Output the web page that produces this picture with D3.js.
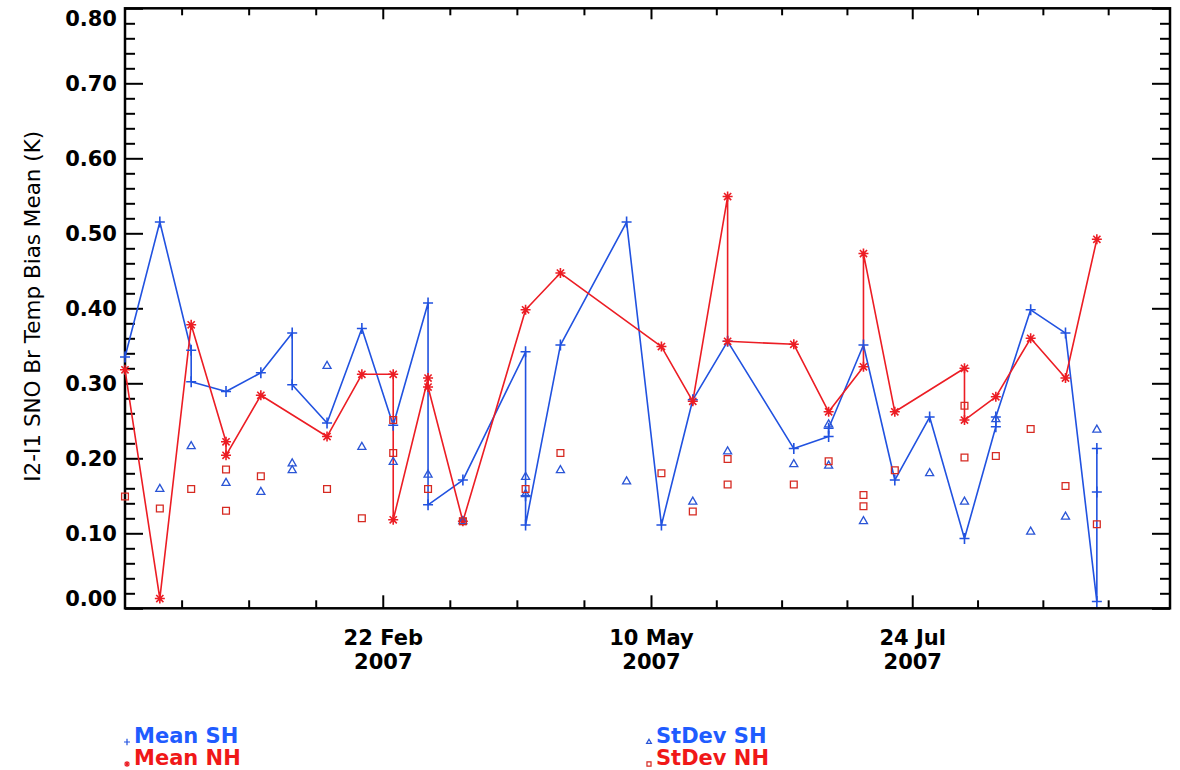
<!DOCTYPE html>
<html>
<head>
<meta charset="utf-8">
<script src="https://cdn.jsdelivr.net/npm/d3@7"></script>
<style>
  html, body { margin: 0; padding: 0; background: #fff; }
  svg { display: block; }
</style>
</head>
<body>
<div id="chart"></div>
<script>
// I2-I1 SNO brightness temperature bias, 2007
const meanSHDates = ["2006-12-10", "2006-12-20", "2006-12-29", "2006-12-29", "2007-01-08", "2007-01-18",
  "2007-01-27", "2007-01-27", "2007-02-06", "2007-02-16", "2007-02-25", "2007-03-07", "2007-03-07",
  "2007-03-17", "2007-04-04", "2007-04-04", "2007-04-04", "2007-04-14", "2007-05-03", "2007-05-13",
  "2007-05-22", "2007-06-01", "2007-06-20", "2007-06-30", "2007-06-30", "2007-07-10", "2007-07-19",
  "2007-07-29", "2007-08-08", "2007-08-17", "2007-08-17", "2007-08-27", "2007-09-06", "2007-09-15",
  "2007-09-15", "2007-09-15"];
const meanSHValues = [0.335, 0.515, 0.344, 0.302, 0.289, 0.314,
  0.367, 0.298, 0.247, 0.373, 0.244, 0.407, 0.138,
  0.171, 0.342, 0.150, 0.111, 0.351, 0.515, 0.111,
  0.278, 0.356, 0.213, 0.229, 0.240, 0.351, 0.171,
  0.255, 0.093, 0.242, 0.255, 0.398, 0.367, 0.009,
  0.155, 0.213];

const meanNHDates = ["2006-12-10", "2006-12-20", "2006-12-29", "2007-01-08", "2007-01-08", "2007-01-18",
  "2007-02-06", "2007-02-16", "2007-02-25", "2007-02-25", "2007-03-07", "2007-03-07", "2007-03-17",
  "2007-04-04", "2007-04-14", "2007-05-13", "2007-05-22", "2007-06-01", "2007-06-01", "2007-06-20",
  "2007-06-30", "2007-07-10", "2007-07-10", "2007-07-19", "2007-08-08", "2007-08-08", "2007-08-17",
  "2007-08-27", "2007-09-06", "2007-09-15"];
const meanNHValues = [0.318, 0.013, 0.378, 0.222, 0.204, 0.284,
  0.229, 0.312, 0.312, 0.118, 0.307, 0.295, 0.116,
  0.398, 0.447, 0.349, 0.276, 0.549, 0.356, 0.352,
  0.262, 0.322, 0.473, 0.262, 0.320, 0.251, 0.282,
  0.360, 0.307, 0.492];

const stdSHDates = ["2006-12-20", "2006-12-29", "2007-01-08", "2007-01-18", "2007-01-27", "2007-01-27",
  "2007-02-06", "2007-02-16", "2007-02-25", "2007-03-07", "2007-03-17", "2007-04-04", "2007-04-04",
  "2007-04-14", "2007-05-03", "2007-05-22", "2007-06-01", "2007-06-20", "2007-06-30", "2007-06-30",
  "2007-07-10", "2007-07-29", "2007-08-08", "2007-08-17", "2007-08-27", "2007-09-06", "2007-09-15"];
const stdSHValues = [0.159, 0.216, 0.167, 0.155, 0.193, 0.184,
  0.323, 0.215, 0.195, 0.178, 0.116, 0.175, 0.152,
  0.184, 0.169, 0.142, 0.209, 0.192, 0.245, 0.190,
  0.116, 0.180, 0.142, 0.252, 0.102, 0.122, 0.238];

const stdNHDates = ["2006-12-10", "2006-12-20", "2006-12-29", "2007-01-08", "2007-01-08", "2007-01-18",
  "2007-02-06", "2007-02-16", "2007-02-25", "2007-02-25", "2007-03-07", "2007-03-17", "2007-04-04",
  "2007-04-14", "2007-05-13", "2007-05-22", "2007-06-01", "2007-06-01", "2007-06-20", "2007-06-30",
  "2007-07-10", "2007-07-10", "2007-07-19", "2007-08-08", "2007-08-08", "2007-08-17", "2007-08-27",
  "2007-09-06", "2007-09-15"];
const stdNHValues = [0.149, 0.133, 0.159, 0.185, 0.130, 0.176,
  0.159, 0.120, 0.251, 0.207, 0.159, 0.116, 0.159,
  0.207, 0.180, 0.129, 0.199, 0.165, 0.165, 0.196,
  0.151, 0.136, 0.184, 0.270, 0.201, 0.203, 0.239,
  0.163, 0.112];

const xDomain = ["2006-12-10", "2007-10-06"];
const xTickDates = ["2007-02-22", "2007-05-10", "2007-07-24"];
const yTickValues = [0.0, 0.1, 0.2, 0.3, 0.4, 0.5, 0.6, 0.7, 0.8];
const yTitle = "I2-I1 SNO Br Temp Bias Mean (K)";
const legendLabels = ["Mean SH", "Mean NH", "StDev SH", "StDev NH"];

const blue = "#2152e0";
const red = "#ec1d24";
const blueText = "#1f5cff";
const redText = "#f01818";

const width = 1180;
const height = 770;
const plotLeft = 125, plotRight = 1170, plotTop = 8.3, plotBottom = 608.3;

const parse = d3.utcParse("%Y-%m-%d");
const fmtDay = d3.utcFormat("%d %b");
const fmtYear = d3.utcFormat("%Y");

const x = (d3.scaleUtc()
           .domain(xDomain.map(parse))
           .range([plotLeft, plotRight]));

const y = (d3.scaleLinear()
           .domain([0, 0.8])
           .range([plotBottom, plotTop]));

const svg = (d3.select("#chart").append("svg")
             .attr("width", width)
             .attr("height", height)
             .attr("viewBox", [0, 0, width, height]));

// minor x ticks: quarters between labelled dates
const majorDates = xTickDates.map(parse);
const minorDates = (() => {
  const out = [];
  const [d0, d1] = x.domain();
  const steps = [];
  for (let i = 0; i < majorDates.length - 1; i++) {
    steps.push((majorDates[i + 1] - majorDates[i]) / 4);
  }
  let t = +majorDates[0];
  while (t - steps[0] > +d0) { t -= steps[0]; out.push(new Date(t)); }
  for (let i = 0; i < steps.length; i++) {
    for (let k = 1; k < 4; k++) out.push(new Date(+majorDates[i] + k * steps[i]));
  }
  t = +majorDates[majorDates.length - 1];
  const last = steps[steps.length - 1];
  while (t + last < +d1) { t += last; out.push(new Date(t)); }
  return out;
})();
const minorY = y.ticks(40).filter(v => !yTickValues.some(m => Math.abs(m - v) < 1e-6));

function styleAxis(g) {
  g.select(".domain").remove();
  g.selectAll("line").attr("stroke", "#000").attr("stroke-width", 2);
}

// bottom axis
svg.append("g")
  .attr("transform", `translate(0,${plotBottom})`)
  .call(d3.axisBottom(x).tickValues(minorDates).tickSize(-8).tickFormat(""))
  .call(styleAxis);

const bottomMajor = svg.append("g")
  .attr("transform", `translate(0,${plotBottom})`)
  .call(d3.axisBottom(x).tickValues(majorDates).tickSize(-13).tickFormat(""))
  .call(styleAxis);

bottomMajor.selectAll(".tick").append("text")
  .attr("fill", "#000")
  .attr("text-anchor", "middle")
  .attr("font-family", "DejaVu Sans")
  .attr("font-weight", "bold")
  .attr("font-size", 21)
  .each(function(d) {
    const t = d3.select(this);
    t.append("tspan").attr("x", 0).attr("y", 37).text(fmtDay(d));
    t.append("tspan").attr("x", 0).attr("y", 61).text(fmtYear(d));
  });

// top axis
svg.append("g")
  .attr("transform", `translate(0,${plotTop})`)
  .call(d3.axisTop(x).tickValues(minorDates).tickSize(-7).tickFormat(""))
  .call(styleAxis);
svg.append("g")
  .attr("transform", `translate(0,${plotTop})`)
  .call(d3.axisTop(x).tickValues(majorDates).tickSize(-11).tickFormat(""))
  .call(styleAxis);

// left axis
svg.append("g")
  .attr("transform", `translate(${plotLeft},0)`)
  .call(d3.axisLeft(y).tickValues(minorY).tickSize(-10).tickFormat(""))
  .call(styleAxis);

const leftMajor = svg.append("g")
  .attr("transform", `translate(${plotLeft},0)`)
  .call(d3.axisLeft(y).tickValues(yTickValues).tickSize(-18).tickPadding(8).tickFormat(d3.format(".2f")))
  .call(styleAxis);

leftMajor.selectAll("text")
  .attr("fill", "#000")
  .attr("font-family", "DejaVu Sans")
  .attr("font-weight", "bold")
  .attr("font-size", 21)
  .attr("dy", d => d === 0 ? "-0.15em" : (d === 0.8 ? "0.8em" : "0.36em"));

// right axis
svg.append("g")
  .attr("transform", `translate(${plotRight},0)`)
  .call(d3.axisRight(y).tickValues(minorY).tickSize(-10).tickFormat(""))
  .call(styleAxis);
svg.append("g")
  .attr("transform", `translate(${plotRight},0)`)
  .call(d3.axisRight(y).tickValues(yTickValues).tickSize(-18).tickFormat(""))
  .call(styleAxis);

// frame
svg.append("rect")
  .attr("x", plotLeft)
  .attr("y", plotTop)
  .attr("width", plotRight - plotLeft)
  .attr("height", plotBottom - plotTop)
  .attr("fill", "none")
  .attr("stroke", "#000")
  .attr("stroke-width", 2.5);

// y title
svg.append("text")
  .attr("transform", `translate(40,${(plotTop + plotBottom) / 2 - 2}) rotate(-90)`)
  .attr("text-anchor", "middle")
  .attr("font-family", "DejaVu Sans")
  .attr("font-size", 21.5)
  .attr("fill", "#000")
  .text(yTitle);

// marker shapes
const plusPath = "M-5,0H5M0,-5.5V5.5";
const starPath = "M-5,0H5M0,-5V5M-3.6,-3.6L3.6,3.6M-3.6,3.6L3.6,-3.6";
const trianglePath = d3.symbol(d3.symbolTriangle, 28)();
const squarePath = d3.symbol(d3.symbolSquare, 46)();

function toPoints(dates, values) {
  return dates.map((d, i) => ({date: parse(d), value: values[i]}));
}

const line = (d3.line()
              .x(d => x(d.date))
              .y(d => y(d.value)));

const series = [
  {name: legendLabels[0], data: toPoints(meanSHDates, meanSHValues), color: blue, path: plusPath, line: true},
  {name: legendLabels[1], data: toPoints(meanNHDates, meanNHValues), color: red, path: starPath, line: true},
  {name: legendLabels[2], data: toPoints(stdSHDates, stdSHValues), color: "#2a55d6", path: trianglePath, line: false},
  {name: legendLabels[3], data: toPoints(stdNHDates, stdNHValues), color: "#d62a22", path: squarePath, line: false}
];

const plot = svg.append("g");

series.filter(s => s.line).forEach(s => {
  plot.append("path")
    .datum(s.data)
    .attr("fill", "none")
    .attr("stroke", s.color)
    .attr("stroke-width", 1.6)
    .attr("stroke-linejoin", "round")
    .attr("d", line);
});

series.forEach(s => {
  plot.append("g")
    .selectAll("path")
    .data(s.data)
    .join("path")
    .attr("transform", d => `translate(${x(d.date)},${y(d.value)})`)
    .attr("d", s.path)
    .attr("fill", "none")
    .attr("stroke", s.color)
    .attr("stroke-width", s.line ? 1.6 : 1.3);
});

// legend
const legendPos = [[134, 743], [134, 765], [656, 743], [656, 765]];
const legendColors = [blueText, redText, blueText, redText];

series.forEach((s, i) => {
  const [lx, ly] = legendPos[i];
  svg.append("path")
    .attr("transform", `translate(${lx - 7},${ly - 1}) scale(0.6)`)
    .attr("d", s.path)
    .attr("fill", "none")
    .attr("stroke", s.color)
    .attr("stroke-width", 2);
  svg.append("text")
    .attr("x", lx)
    .attr("y", ly)
    .attr("font-family", "DejaVu Sans")
    .attr("font-weight", "bold")
    .attr("font-size", 21)
    .attr("fill", legendColors[i])
    .text(s.name);
});
</script>
</body>
</html>
